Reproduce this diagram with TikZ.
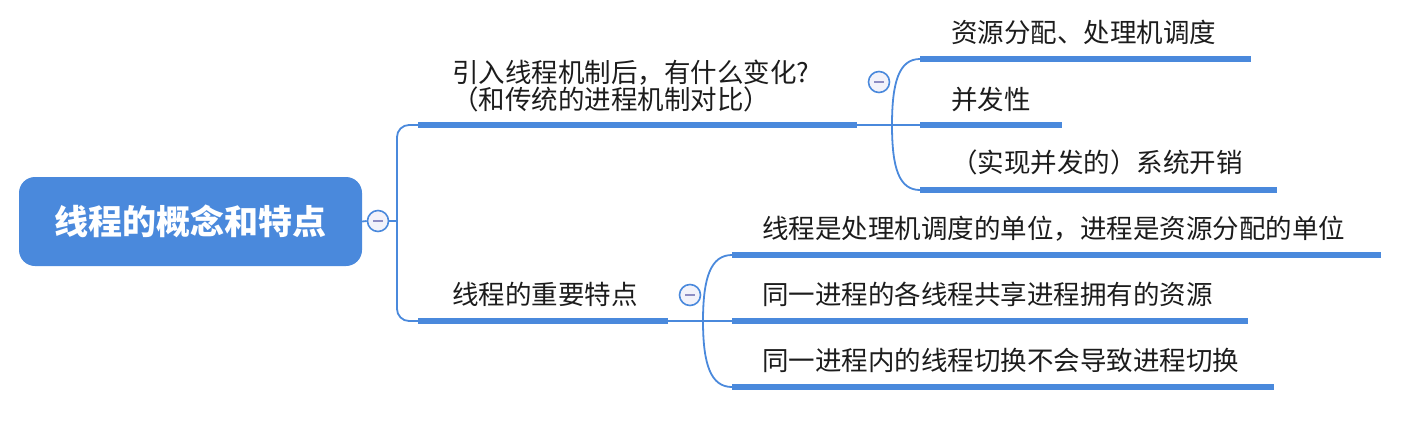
\documentclass[tikz,border=0pt]{standalone}
\usepackage{fontspec}
\newfontfamily\cjk{Noto Sans CJK SC}
\definecolor{mblue}{RGB}{74,137,220}
\definecolor{txt}{RGB}{28,28,28}
\definecolor{btnfill}{RGB}{242,242,250}
\definecolor{btnminus}{RGB}{140,140,195}
\begin{document}
\begin{tikzpicture}[x=1pt,y=-1pt,
  bar/.style={mblue,line width=6pt},
  conn/.style={mblue,line width=1.8pt},
  topic/.style={anchor=west,inner sep=0pt,text=txt,font=\cjk\fontsize{26.5}{27}\selectfont,text height=23pt,text depth=3.5pt},
  rootbox/.style={fill=mblue,rounded corners=16pt,minimum width=343pt,minimum height=89pt,inner sep=0pt,text=white,font=\cjk\bfseries\fontsize{34}{36}\selectfont},
  btn/.style={circle,draw=mblue,line width=1.6pt,fill=btnfill,minimum size=21pt,inner sep=0pt,
    path picture={\draw[btnminus,line width=1.6pt] ([xshift=-5pt]path picture bounding box.center) -- ([xshift=5pt]path picture bounding box.center);}}
]
\useasboundingbox (0,0) rectangle (1420,423);

% root
\node[rootbox] (root) at (190.5,221.5) {线程的概念和特点};
\node[btn] (c0) at (378,221) {};
\coordinate (j0) at (397,221);

% level 1 bars
\coordinate (b1s) at (418,125); \coordinate (b1e) at (857,125);
\coordinate (b2s) at (418,321); \coordinate (b2e) at (668,321);

\draw[conn] (root.east) -- (c0.west);
\draw[conn] (c0.east) -- (j0);
\draw[conn,rounded corners=12pt] (b1s) -| (j0) |- (b2s);
\draw[bar] (b1s) -- (b1e);
\draw[bar] (b2s) -- (b2e);

\node[anchor=west,inner sep=0pt,text=txt,font=\cjk\fontsize{26.5}{27}\selectfont,align=left] (t1) at (452,86.5) {引入线程机制后，有什么变化?\\（和传统的进程机制对比）};
\node[topic] (t2) at (452,295) {线程的重要特点};

% first group
\node[btn] (c1) at (879,82) {};
\coordinate (f1) at (892,125);
\coordinate (k1s) at (920,59);  \coordinate (k1e) at (1251,59);
\coordinate (k2s) at (920,125); \coordinate (k2e) at (1062,125);
\coordinate (k3s) at (920,190); \coordinate (k3e) at (1277,190);
\draw[conn] (b1e) -- (k2s);
\draw[conn] (f1) .. controls (892,82) and (899,59) .. (k1s);
\draw[conn] (f1) .. controls (892,168) and (899,190) .. (k3s);
\draw[bar] (k1s) -- (k1e);
\draw[bar] (k2s) -- (k2e);
\draw[bar] (k3s) -- (k3e);
\node[topic] (s1) at (951,33) {资源分配、处理机调度};
\node[topic] (s2) at (951,100) {并发性};
\node[topic] (s3) at (951,163) {（实现并发的）系统开销};

% second group
\node[btn] (c2) at (690,295) {};
\coordinate (f2) at (703,321);
\coordinate (m1s) at (732,255); \coordinate (m1e) at (1381,255);
\coordinate (m2s) at (732,321); \coordinate (m2e) at (1248,321);
\coordinate (m3s) at (732,387); \coordinate (m3e) at (1274,387);
\draw[conn] (b2e) -- (m2s);
\draw[conn] (f2) .. controls (703,277) and (711,255) .. (m1s);
\draw[conn] (f2) .. controls (703,365) and (711,387) .. (m3s);
\draw[bar] (m1s) -- (m1e);
\draw[bar] (m2s) -- (m2e);
\draw[bar] (m3s) -- (m3e);
\node[topic] (s4) at (762,229) {线程是处理机调度的单位，进程是资源分配的单位};
\node[topic] (s5) at (762,295) {同一进程的各线程共享进程拥有的资源};
\node[topic] (s6) at (762,361) {同一进程内的线程切换不会导致进程切换};
\end{tikzpicture}
\end{document}
